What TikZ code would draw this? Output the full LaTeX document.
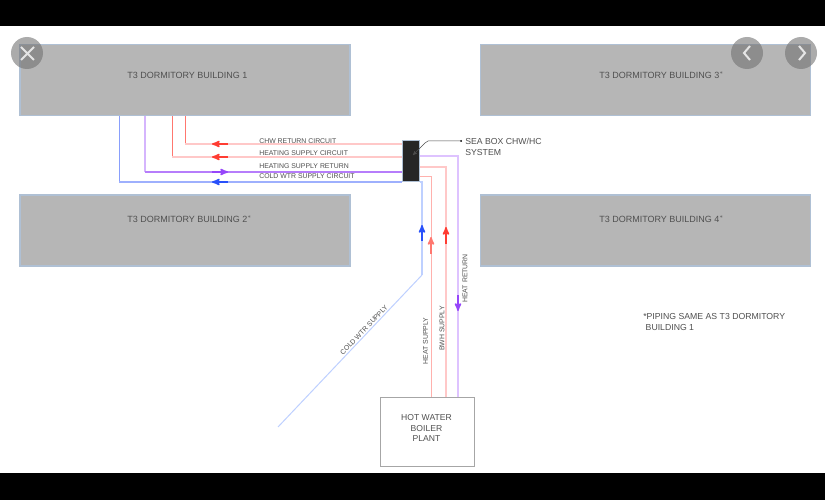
\documentclass[tikz,border=0pt]{standalone}
\usepackage{fontspec}
\setmainfont{Liberation Sans}
\usetikzlibrary{arrows,positioning}
\definecolor{bldg}{RGB}{182,182,182}
\definecolor{bldgedge}{RGB}{175,192,212}
\definecolor{pipepink}{RGB}{255,200,200}
\definecolor{pipered}{RGB}{255,60,50}
\definecolor{pipelila}{RGB}{222,195,255}
\definecolor{pipepurple}{RGB}{150,70,250}
\definecolor{pipesky}{RGB}{190,208,255}
\definecolor{pipeblue}{RGB}{40,80,250}
\definecolor{txtgrey}{RGB}{80,80,80}
\tikzset{
  building/.style={draw=bldgedge,fill=bldg,line width=1.2pt,minimum width=330pt,minimum height=71pt,inner sep=0pt},
  bldglabel/.style={anchor=west,text=txtgrey,inner sep=0pt,font=\fontsize{9}{11}\selectfont},
  pipelabel/.style={text=txtgrey,inner sep=0pt,font=\fontsize{6.9}{8}\selectfont},
  smalllabel/.style={text=txtgrey,inner sep=0pt,font=\fontsize{8.7}{11}\selectfont},
  flow/.style={->,>=stealth',line width=1.6pt,shorten >=0pt},
  button/.style={circle,fill=black!55,opacity=.6,minimum size=32pt,inner sep=0pt},
}
\begin{document}
\begin{tikzpicture}[x=1pt,y=-1pt,semithick]
  \useasboundingbox (0,0) rectangle (825,500);
  \fill[white] (0,0) rectangle (825,500);
  \fill[black] (0,0) rectangle (825,26);
  \fill[black] (0,473) rectangle (825,500);

  \node[building] (B1) at (185,80)    {};
  \node[building] (B2) at (185,230.5) {};
  \node[building] (B3) at (645.5,80)  {};
  \node[building] (B4) at (645.5,230.5) {};
  \node[bldglabel] (T1) at (127,75.5) {T3 DORMITORY BUILDING 1};
  \node[bldglabel] (T2) at (127,219.5) {T3 DORMITORY BUILDING 2$^{*}$};
  \node[bldglabel] (T3) at (599,75.5) {T3 DORMITORY BUILDING 3$^{*}$};
  \node[bldglabel] (T4) at (599,219.5) {T3 DORMITORY BUILDING 4$^{*}$};

  \node[draw=bldgedge,fill=black!85,line width=1pt,minimum width=17pt,minimum height=41pt,inner sep=0pt] (SB) at (410.5,161.5) {};
  \node[draw=black!35,fill=white,line width=1pt,minimum width=94pt,minimum height=69pt,inner sep=0pt] (BP) at (427,431.5) {};
  \node[text=txtgrey,inner sep=0pt,align=center,font=\fontsize{8.6}{10.5}\selectfont] (BT) at (426.5,428) {HOT WATER\\BOILER\\PLANT};

  % pipe corners
  \coordinate (c1) at (185,144);
  \coordinate (c2) at (172,157);
  \coordinate (c3) at (145,172);
  \coordinate (c4) at (119,182);
  \coordinate (r1) at (458,156);
  \coordinate (r2) at (446,167);
  \coordinate (r3) at (431,176);
  \coordinate (r4) at (422,182);
  \coordinate (r5) at (422,275);
  \coordinate (r6) at (278,427);

  % to building 1
  \draw[pipered!70,line width=.8pt] (B1.south -| c1) -- (c1);
  \draw[pipepink,line width=1.6pt] (c1) -- (SB.west |- c1);
  \draw[pipered!70,line width=.8pt] (B1.south -| c2) -- (c2);
  \draw[pipepink,line width=2.4pt] (c2) -- (SB.west |- c2);
  \draw[pipepurple!40,line width=1.2pt] (B1.south -| c3) -- (c3);
  \draw[pipepurple!70,line width=1.6pt] (c3) -- (SB.west |- c3);
  \draw[pipeblue!55,line width=.8pt] (B1.south -| c4) -- (c4);
  \draw[pipeblue!45,line width=1.2pt] (c4) -- (SB.west |- c4);

  % to the plant
  \draw[pipelila,line width=1.6pt] (SB.east |- r1) -- (r1) -- (BP.north -| r1);
  \draw[pipepink,line width=1.6pt] (SB.east |- r2) -- (r2) -- (BP.north -| r2);
  \draw[pipered!40,line width=.8pt] (SB.east |- r3) -- (r3) -- (BP.north -| r3);
  \draw[pipesky,line width=1.6pt] (SB.east |- r4) -- (r4) -- (r5);
  \draw[pipesky,line width=1pt] (r5) -- (r6);

  % flow arrows
  \foreach \n/\xa/\ya/\xb/\yb/\col in {a1/228/144/212/144/pipered,a2/228/157/212/157/pipered,
      a3/212/172/228/172/pipepurple,a4/228/182/212/182/pipeblue,
      a5/422/241/422/225/pipeblue,a6/431/254/431/237/pipered!70,
      a7/446/244/446/227/pipered,a8/458/295/458/311/pipepurple}{
    \coordinate (\n s) at (\xa,\ya);
    \coordinate (\n e) at (\xb,\yb);
    \draw[flow,\col] (\n s) -- (\n e);
  }

  \node[pipelabel,anchor=west] (L1) at (259,141) {CHW RETURN CIRCUIT};
  \node[pipelabel,anchor=west] (L2) at (259,153)   {HEATING SUPPLY CIRCUIT};
  \node[pipelabel,anchor=west] (L3) at (259,166.5) {HEATING SUPPLY RETURN};
  \node[pipelabel,anchor=west] (L4) at (259,176.5) {COLD WTR SUPPLY CIRCUIT};

  \node[pipelabel,rotate=46.5] (L5) at (364,330) {COLD WTR SUPPLY};
  \node[pipelabel,rotate=90]   (L6) at (425.5,341) {HEAT SUPPLY};
  \node[pipelabel,rotate=90]   (L7) at (442,328.5)   {BWH SUPPLY};
  \node[pipelabel,rotate=90]   (L8) at (465,278.5)   {HEAT RETURN};

  \node[smalllabel,anchor=west,align=left] (SL) at (465,147) {SEA BOX CHW/HC\\SYSTEM};
  \coordinate (sbin) at (413,155);
  \draw[<-,>=stealth',black!70,line width=.5pt] (sbin) -- (425,143) -- (428,141) -- (461,141);
  \fill[black] (461,141) circle (1pt);

  \node[smalllabel,anchor=west,align=left] (NT) at (643,322.5) {*PIPING SAME AS T3 DORMITORY\\\ BUILDING 1};

  % viewer buttons on top of the picture
  \node[button] (BX) at (27,53) {};
  \node[button] (BL) at (747,53) {};
  \node[button] (BR) at (801,53) {};
  \draw[white!90!black,line width=2pt] (21,47) -- (34,60) (34,47) -- (21,60);
  \draw[white!90!black,line width=2pt] (750,46) -- (744,53) -- (750,60);
  \draw[white!90!black,line width=2pt] (799,46) -- (805,53) -- (799,60);
\end{tikzpicture}
\end{document}
